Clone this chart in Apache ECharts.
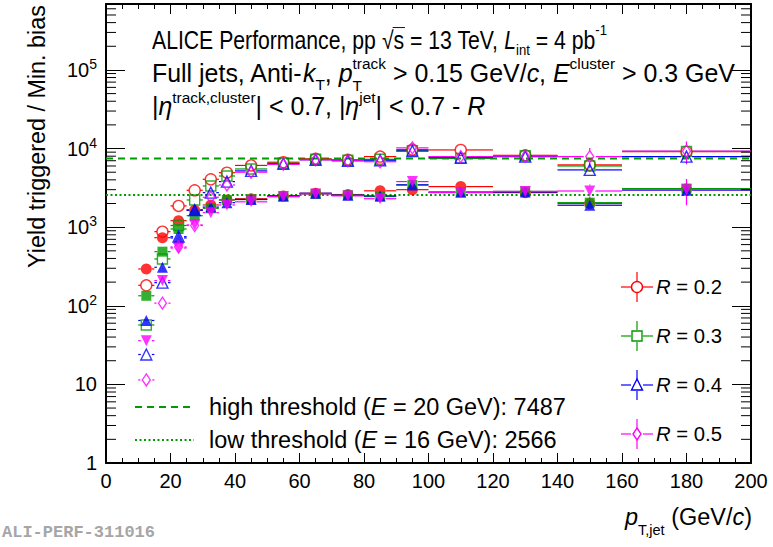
<!DOCTYPE html>
<html><head><meta charset="utf-8">
<script src="https://cdn.jsdelivr.net/npm/echarts@6/dist/echarts.min.js"></script>
<style>html,body{margin:0;padding:0;background:#fff}#c{width:773px;height:547px}</style>
</head><body><div id="c"></div>
<script>
// ---------------- data ----------------
const binCenters    = [12.5,17.5,22.5,27.5,32.5,37.5,45,55,65,75,85,95,110,130,150,180];
const binHalfWidths = [2.5,2.5,2.5,2.5,2.5,2.5,5,5,5,5,5,5,10,10,10,20];

const r02High    = [182, 877, 1862, 2946, 4066, 4930, 6100, 6700, 7400, 7200, 7900, 9700, 9600, 8200, 6200, 9100];
const r02HighErr = [5, 15, 30, 40, 50, 60, 70, 90, 110, 140, 180, 300, 350, 500, 900, 1500];
const r02Low     = [294, 735, 1210, 1640, 1916, 2220, 2300, 2500, 2700, 2600, 2900, 3000, 3280, 2750, 2000, 3050];
const r02LowErr  = [6, 15, 25, 30, 30, 35, 35, 40, 50, 60, 70, 110, 120, 170, 250, 400];
const r03High    = [57, 394, 1050, 2218, 3342, 4477, 5500, 6500, 7300, 7100, 7300, 9400, 7500, 8100, 6000, 9200];
const r03HighErr = [3, 12, 25, 40, 50, 60, 70, 90, 110, 140, 180, 300, 350, 500, 900, 1400];
const r03Low     = [134, 488, 948, 1400, 1738, 2218, 2250, 2450, 2650, 2550, 2450, 3450, 2800, 2850, 2050, 3100];
const r03LowErr  = [5, 12, 20, 25, 30, 35, 35, 40, 50, 60, 70, 120, 130, 180, 260, 400];
const r04High    = [24, 197, 757, 1650, 2749, 3796, 5200, 6400, 7200, 7000, 7100, 9300, 7700, 7900, 5350, 7900];
const r04HighErr = [2, 8, 20, 35, 50, 60, 70, 90, 110, 140, 180, 300, 400, 600, 700, 1300];
const r04Low     = [65, 309, 729, 1650, 1800, 2050, 2250, 2500, 2700, 2550, 2500, 3450, 2780, 2800, 1900, 2950];
const r04LowErr  = [3, 10, 18, 25, 30, 35, 35, 40, 50, 60, 70, 130, 140, 200, 280, 450];
const r05High    = [11.4, 108, 560, 1050, 2400, 3443, 5000, 6300, 7200, 7000, 6800, 10200, 7900, 8000, 7900, 9300];
const r05HighErr = [1, 5, 15, 25, 45, 60, 80, 100, 120, 150, 200, 400, 500, 800, 2300, 3000];
const r05Low     = [36, 209, 543, 1067, 1529, 1916, 2100, 2450, 2650, 2500, 2300, 3800, 2750, 2850, 2885, 3000];
const r05LowErr  = [2, 8, 15, 25, 30, 35, 40, 50, 60, 70, 80, 150, 200, 400, 600, 1100];

const highThreshold = 7487;
const lowThreshold  = 2566;
const radiusLabels  = ['0.2','0.3','0.4','0.5'];

// ---------------- styling ----------------
const FONT = '"Liberation Sans", Arial, Helvetica, sans-serif';
const RED = '#ff0000', GREEN = '#009b00', BLUE = '#0000ff', MAG = '#ff00ff';
const X_MIN = 0, X_MAX = 200, Y_MIN = 1, Y_MAX = 6.9e5;

const mctx = document.createElement('canvas').getContext('2d');
function fontOf(sg, size){ const fs = size*(sg.s||1); return (sg.it?'italic ':'normal ') + fs.toFixed(2) + 'px ' + FONT; }
function segW(sg, size){ mctx.font = fontOf(sg,size); return mctx.measureText(sg.t).width; }
function measure(segs, size){
  let x=0, pend=null;
  for (const sg of segs){ const w=segW(sg,size);
    if (sg.st){ pend=w; continue; }
    if (pend!==null){ x+=Math.max(pend,w); pend=null; } else x+=w; }
  return x;
}
function place(segs, x0, yMid, size, color, anchor){
  const total = measure(segs,size);
  let x = anchor==='right' ? x0-total : x0;
  const els=[]; let pend=null;
  for (const sg of segs){
    const w=segW(sg,size);
    els.push({type:'text', x:x, y:yMid+(sg.dy||0)*size, silent:true,
      style:{text:sg.t, font:fontOf(sg,size), fill:color, align:'left', verticalAlign:'middle', textAlign:'left', textVerticalAlign:'middle'}});
    if (sg.over){ els.push({type:'line', silent:true, shape:{x1:x-1,y1:yMid-0.5*size,x2:x+w+1,y2:yMid-0.5*size}, style:{stroke:color,lineWidth:1}}); }
    if (sg.st){ pend=w; continue; }
    if (pend!==null){ x+=Math.max(pend,w); pend=null; } else x+=w;
  }
  return els;
}
function fit(segs, target){ return 20*target/measure(segs,20); }

// ---------------- series ----------------
const defs = [
  {vals:r02High, err:r02HighErr, color:RED,   symbol:'circle',   open:true,  size:11},
  {vals:r02Low,  err:r02LowErr,  color:RED,   symbol:'circle',   open:false, size:11},
  {vals:r03High, err:r03HighErr, color:GREEN, symbol:'rect',     open:true,  size:10},
  {vals:r03Low,  err:r03LowErr,  color:GREEN, symbol:'rect',     open:false, size:10},
  {vals:r04High, err:r04HighErr, color:BLUE,  symbol:'triangle', open:true,  size:11},
  {vals:r04Low,  err:r04LowErr,  color:BLUE,  symbol:'triangle', open:false, size:11},
  {vals:r05High, err:r05HighErr, color:MAG,   symbol:'diamond',  open:true,  size:[8,12]},
  {vals:r05Low,  err:r05LowErr,  color:MAG,   symbol:'triangle', open:false, size:11, rot:180}
];

const series = [];
series.push({type:'line', data:[[X_MIN,highThreshold],[X_MAX,highThreshold]], showSymbol:false, silent:true,
  lineStyle:{color:GREEN,width:2,type:[7,5]}, z:1});
series.push({type:'line', data:[[X_MIN,lowThreshold],[X_MAX,lowThreshold]], showSymbol:false, silent:true,
  lineStyle:{color:GREEN,width:2,type:[2,2.5]}, z:1});

// minor log ticks (left and right frame)
const minorVals=[];
for (let k=0;k<6;k++) for (let m=2;m<=9;m++){ const v=m*Math.pow(10,k); if (v<Y_MAX) minorVals.push([X_MIN,v]); }
series.push({type:'custom', data:minorVals, encode:{x:0,y:1}, silent:true, clip:false, z:5,
  renderItem:(p,api)=>{ const v=api.value(1); const a=api.coord([X_MIN,v]); const b=api.coord([X_MAX,v]);
    return {type:'group', children:[
      {type:'line', shape:{x1:a[0],y1:a[1],x2:a[0]+10,y2:a[1]}, style:{stroke:'#000',lineWidth:1}},
      {type:'line', shape:{x1:b[0]-10,y1:b[1],x2:b[0],y2:b[1]}, style:{stroke:'#000',lineWidth:1}}]}; }});

defs.forEach(d=>{
  const gap = (Array.isArray(d.size)?d.size[1]:d.size)/2;
  const data = binCenters.map((x,i)=>[x, d.vals[i], binHalfWidths[i], d.err[i]]);
  series.push({type:'custom', data:data, encode:{x:0,y:1}, silent:true, z:3,
    renderItem:(p,api)=>{
      const x=api.value(0), y=api.value(1), hw=api.value(2), e=api.value(3);
      const c=api.coord([x,y]), l=api.coord([x-hw,y]), r=api.coord([x+hw,y]);
      const t=api.coord([x,y+e]), b=api.coord([x,Math.max(y-e,1e-3)]);
      const st={stroke:d.color,lineWidth:1.2}; const ch=[];
      if (c[0]-gap>l[0]) ch.push({type:'line',shape:{x1:l[0],y1:c[1],x2:c[0]-gap,y2:c[1]},style:st});
      if (r[0]>c[0]+gap) ch.push({type:'line',shape:{x1:c[0]+gap,y1:c[1],x2:r[0],y2:c[1]},style:st});
      if (t[1]<c[1]-gap) ch.push({type:'line',shape:{x1:c[0],y1:t[1],x2:c[0],y2:c[1]-gap},style:st});
      if (b[1]>c[1]+gap) ch.push({type:'line',shape:{x1:c[0],y1:c[1]+gap,x2:c[0],y2:b[1]},style:st});
      return {type:'group',children:ch};
    }});
  series.push({type:'scatter', data:data.map(q=>[q[0],q[1]]), symbol:d.symbol, symbolSize:d.size, symbolRotate:d.rot||0,
    silent:true, z:4,
    itemStyle: d.open ? {color:'rgba(255,255,255,0)', borderColor:d.color, borderWidth:1.4}
                      : {color:d.color, borderColor:d.color, borderWidth:0}});
});

// ---------------- text / graphics ----------------
const gfx = [];
const line1 = [{t:'ALICE Performance, pp '},{t:'√'},{t:'s',over:true},{t:' = 13 TeV, '},{t:'L',it:1},{t:'int',s:.62,dy:.38},{t:' = 4 pb'},{t:'-1',s:.62,dy:-.4}];
const line2 = [{t:'Full jets, Anti-'},{t:'k',it:1},{t:'T',s:.62,dy:.45},{t:', '},{t:'p',it:1},{t:'track',s:.62,dy:-.4,st:1},{t:'T',s:.62,dy:.5},{t:' > 0.15 GeV/'},{t:'c',it:1},{t:', '},{t:'E',it:1},{t:'cluster',s:.62,dy:-.4},{t:' > 0.3 GeV'}];
const line3 = [{t:'|'},{t:'η',it:1},{t:'track,cluster',s:.62,dy:-.33},{t:'| < 0.7, |'},{t:'η',it:1},{t:'jet',s:.62,dy:-.33},{t:'| < 0.7 - '},{t:'R',it:1}];
const hs = fit(line2, 583);
// first line: same glyph height as line 2, horizontally condensed to its reference width
const l1w = measure(line1, hs);
gfx.push({type:'group', x:152, y:0, scaleX:455/l1w, scaleY:1, silent:true, children: place(line1,0,40,hs,'#000')});
gfx.push(...place(line2,152,73,hs,'#000'));
gfx.push(...place(line3,152,106,hs,'#000'));

const lg1 = [{t:'high threshold ('},{t:'E',it:1},{t:' = 20 GeV): '+highThreshold}];
const lg2 = [{t:'low threshold ('},{t:'E',it:1},{t:' = 16 GeV): '+lowThreshold}];
const ls = fit(lg1, 357);
gfx.push(...place(lg1,209,407,ls,'#000'));
gfx.push(...place(lg2,209,440,ls,'#000'));
gfx.push({type:'line',silent:true,shape:{x1:135,y1:407,x2:194,y2:407},style:{stroke:GREEN,lineWidth:2,lineDash:[7,5]}});
gfx.push({type:'line',silent:true,shape:{x1:135,y1:440,x2:194,y2:440},style:{stroke:GREEN,lineWidth:2,lineDash:[2,2.5]}});

// right legend
const legY=[287,336,385,434], legCol=[RED,GREEN,BLUE,MAG];
const rs = fit([{t:'R',it:1},{t:' = '+radiusLabels[0]}], 66);
legY.forEach((y,i)=>{
  const cx=637, col=legCol[i], g=6;
  gfx.push({type:'line',silent:true,shape:{x1:621,y1:y,x2:cx-g,y2:y},style:{stroke:col,lineWidth:1.2}});
  gfx.push({type:'line',silent:true,shape:{x1:cx+g,y1:y,x2:653,y2:y},style:{stroke:col,lineWidth:1.2}});
  gfx.push({type:'line',silent:true,shape:{x1:cx,y1:y-15,x2:cx,y2:y-g},style:{stroke:col,lineWidth:1.2}});
  gfx.push({type:'line',silent:true,shape:{x1:cx,y1:y+g,x2:cx,y2:y+15},style:{stroke:col,lineWidth:1.2}});
  const ms={fill:'none',stroke:col,lineWidth:1.4};
  if (i===0) gfx.push({type:'circle',silent:true,shape:{cx:cx,cy:y,r:5.5},style:ms});
  if (i===1) gfx.push({type:'rect',silent:true,shape:{x:cx-5,y:y-5,width:10,height:10},style:ms});
  if (i===2) gfx.push({type:'polygon',silent:true,shape:{points:[[cx,y-6],[cx+5.5,y+5],[cx-5.5,y+5]]},style:ms});
  if (i===3) gfx.push({type:'polygon',silent:true,shape:{points:[[cx,y-6],[cx+4,y],[cx,y+6],[cx-4,y]]},style:ms});
  gfx.push(...place([{t:'R',it:1},{t:' = '+radiusLabels[i]}],656,y,rs,'#000'));
});

// axis titles
const xt=[{t:'p',it:1},{t:'T,jet',s:.62,dy:.55},{t:' (GeV/'},{t:'c',it:1},{t:')'}];
gfx.push(...place(xt,752,517,ls,'#000','right'));
const ytText='Yield triggered / Min. bias';
const ys = fit([{t:ytText}], 263);
gfx.push({type:'text',x:37,y:5,rotation:Math.PI/2,silent:true,
  style:{text:ytText,font:'normal '+ys.toFixed(2)+'px '+FONT,fill:'#000',align:'right',verticalAlign:'middle',textAlign:'right',textVerticalAlign:'middle'}});
gfx.push({type:'text',x:2,y:532,silent:true,
  style:{text:'ALI-PERF-311016',font:'bold 17px "Liberation Mono", "DejaVu Sans Mono", monospace',fill:'#a6a6a6',align:'left',verticalAlign:'middle',textAlign:'left',textVerticalAlign:'middle'}});

// ---------------- axes ----------------
const axLine={show:true,onZero:false,lineStyle:{color:'#000',width:2}};
function yFmt(v){ const e=Math.round(Math.log10(v)); if (Math.abs(v-Math.pow(10,e))>1e-6*v) return ''; if (e===0) return '1'; if (e===1) return '10'; return '10{sup|'+e+'}'; }
const option = {
  animation:false,
  backgroundColor:'#fff',
  grid:{left:106,right:22,top:4,bottom:84,show:false},
  xAxis:[
    {type:'value',min:X_MIN,max:X_MAX,interval:20,position:'bottom',axisLine:axLine,
      axisTick:{inside:true,length:10,lineStyle:{color:'#000',width:1}},
      minorTick:{show:true,splitNumber:4,length:5,lineStyle:{color:'#000',width:1}},
      splitLine:{show:false},
      axisLabel:{fontSize:20,fontFamily:FONT,color:'#000',margin:8}},
    {type:'value',min:X_MIN,max:X_MAX,interval:20,position:'top',axisLine:axLine,
      axisTick:{inside:true,length:10,lineStyle:{color:'#000',width:1}},
      minorTick:{show:true,splitNumber:4,length:5,lineStyle:{color:'#000',width:1}},
      splitLine:{show:false},axisLabel:{show:false}}
  ],
  yAxis:[
    {type:'log',logBase:10,min:Y_MIN,max:Y_MAX,position:'left',axisLine:axLine,
      axisTick:{inside:true,length:19,lineStyle:{color:'#000',width:1}},
      splitLine:{show:false},
      axisLabel:{fontSize:20,fontFamily:FONT,color:'#000',margin:9,lineHeight:26,showMaxLabel:false,formatter:yFmt,
        rich:{sup:{fontSize:14,fontFamily:FONT,color:'#000',verticalAlign:'top',lineHeight:14}}}},
    {type:'log',logBase:10,min:Y_MIN,max:Y_MAX,position:'right',axisLine:axLine,
      axisTick:{inside:true,length:19,lineStyle:{color:'#000',width:1}},
      splitLine:{show:false},axisLabel:{show:false}}
  ],
  series:series,
  graphic:{elements:gfx}
};
const chart = echarts.init(document.getElementById('c'), null, {renderer:'svg'});
chart.setOption(option);
</script>
</body></html>
